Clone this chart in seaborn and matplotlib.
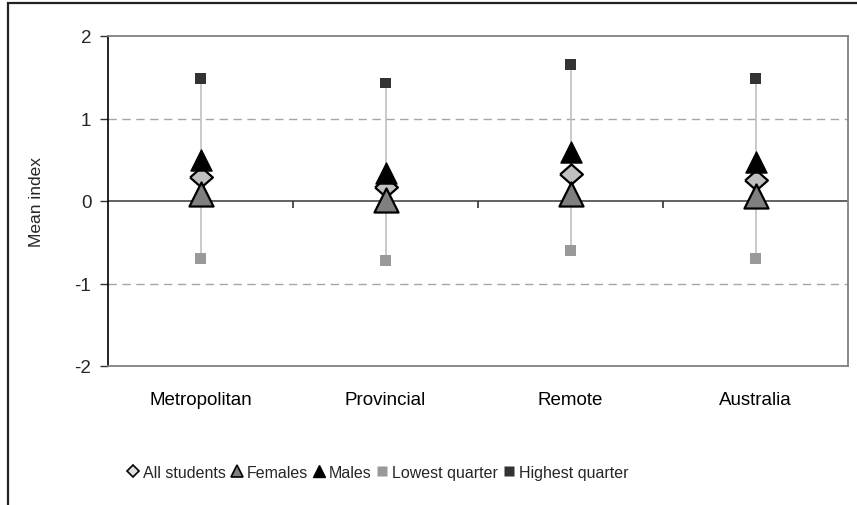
import numpy as np
import pandas as pd
import seaborn as sns
import matplotlib
matplotlib.use('Agg')
import matplotlib.pyplot as plt
from matplotlib.lines import Line2D
from matplotlib.patches import Rectangle

# values
categories = ['Metropolitan', 'Provincial', 'Remote', 'Australia']
all_students = [0.29, 0.17, 0.33, 0.26]
females = [0.08, 0.01, 0.08, 0.06]
males = [0.50, 0.34, 0.60, 0.47]
lowest = [-0.70, -0.72, -0.60, -0.70]
highest = [1.48, 1.43, 1.65, 1.48]
y_ticks = [-2, -1, 0, 1, 2]

sns.set_style('white')
plt.rcParams['font.family'] = ['Liberation Sans', 'DejaVu Sans']

pos = np.arange(len(categories))
df = pd.DataFrame({'pos': pos, 'category': categories, 'all': all_students,
                   'females': females, 'males': males,
                   'lowest': lowest, 'highest': highest})

fig = plt.figure(figsize=(8.57, 5.06), dpi=100)
ax = fig.add_axes([108 / 857, 1 - 367 / 506, 740 / 857, 330 / 506])

# high-low lines
ax.vlines(df['pos'], df['lowest'], df['highest'], color='#c0c0c0', lw=1.2, zorder=1)

# gridlines and zero line
for y in [-1, 1]:
    ax.axhline(y, color='#a6a6a6', lw=1, ls=(0, (6, 4)), zorder=0)
ax.axhline(0, color='#555555', lw=1.3, zorder=1.5)
ax.vlines([0.5, 1.5, 2.5], 0, -0.08, color='#333333', lw=1.2, zorder=1.5)

diamond = [(-1, 0), (0, 0.88), (1, 0), (0, -0.88), (-1, 0)]
sns.scatterplot(data=df, x='pos', y='all', marker=diamond, s=270, color='#c0c0c0',
                edgecolor='black', linewidth=1.6, ax=ax, zorder=3)
sns.scatterplot(data=df, x='pos', y='females', marker='^', s=300, color='#808080',
                edgecolor='black', linewidth=1.6, ax=ax, zorder=4)
sns.scatterplot(data=df, x='pos', y='males', marker='^', s=230, color='black',
                edgecolor='black', linewidth=1, ax=ax, zorder=3.5)
sns.scatterplot(data=df, x='pos', y='lowest', marker='s', s=62, color='#999999',
                edgecolor='none', ax=ax, zorder=3)
sns.scatterplot(data=df, x='pos', y='highest', marker='s', s=62, color='#333333',
                edgecolor='none', ax=ax, zorder=3)

ax.set_xlim(-0.5, len(categories) - 0.5)
ax.set_ylim(-2, 2)
ax.set_xticks(pos, categories)
ax.set_yticks(y_ticks, [str(t) for t in y_ticks])
ax.tick_params(axis='x', length=0, pad=18, labelsize=13.5, colors='black')
ax.tick_params(axis='y', direction='out', length=6, width=1, pad=6, labelsize=13.5,
               left=True, color='#333333')
ax.set_xlabel('')
ax.set_ylabel('Mean index', fontsize=12.5, labelpad=22)

for side in ['top', 'right', 'bottom']:
    ax.spines[side].set_color('#808080')
    ax.spines[side].set_linewidth(1.3)
ax.spines['left'].set_color('black')
ax.spines['left'].set_linewidth(1.2)

handles = [
    Line2D([], [], ls='none', marker='D', ms=6, mfc='#e0e0e0', mec='black', mew=1.2),
    Line2D([], [], ls='none', marker='^', ms=8, mfc='#808080', mec='black', mew=1.2),
    Line2D([], [], ls='none', marker='^', ms=8, mfc='black', mec='black'),
    Line2D([], [], ls='none', marker='s', ms=7, mfc='#999999', mec='none'),
    Line2D([], [], ls='none', marker='s', ms=7, mfc='#333333', mec='none'),
]
labels = ['All students', 'Females', 'Males', 'Lowest quarter', 'Highest quarter']
fig.legend(handles, labels, loc='center', bbox_to_anchor=(0.441, 0.065), ncol=5,
           frameon=False, fontsize=11.5, handlelength=0.7, handletextpad=0.25,
           columnspacing=0.35, borderaxespad=0)

# outer chart border (top and left visible)
fig.patches.append(Rectangle((8 / 857, -0.1), 1.2, 1.1 - 4 / 506, transform=fig.transFigure,
                             fill=False, edgecolor='#222222', lw=1.6))

fig.savefig('out.png', dpi=100)
